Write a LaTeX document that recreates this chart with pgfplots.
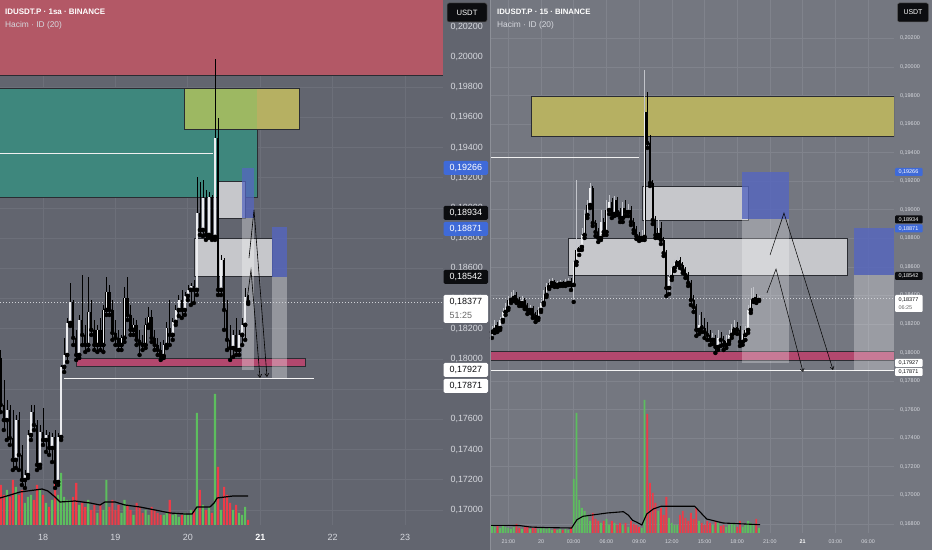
\documentclass[border=0pt]{standalone}
\usepackage{fontspec}
\setmainfont{Liberation Sans}
\usepackage{pgfplots}
\pgfplotsset{compat=1.18}
\usepackage{pgfplotstable}
\usetikzlibrary{arrows.meta}

\definecolor{bgL}{HTML}{62656F}
\definecolor{bgR}{HTML}{747780}
\definecolor{gridL}{HTML}{6C6F79}
\definecolor{gridR}{HTML}{80838C}
\definecolor{redZ}{HTML}{B35866}
\definecolor{tealZ}{HTML}{3E877D}
\definecolor{yelZ}{HTML}{B6B062}
\definecolor{limeZ}{HTML}{9DB862}
\definecolor{grayZ}{HTML}{C6C7CB}
\definecolor{blueZ}{HTML}{5566C0}
\definecolor{pinkZ}{HTML}{B2486E}
\definecolor{zbord}{HTML}{2A2C32}
\definecolor{volG}{HTML}{5DBE5E}
\definecolor{volR}{HTML}{EE3B48}
\definecolor{lbl}{HTML}{D6D8DE}
\definecolor{tvblue}{HTML}{3F6AD8}
\definecolor{tvblack}{HTML}{0C0D10}
\definecolor{upW}{HTML}{ECEDF0}
\definecolor{wickR}{HTML}{C2C4CA}
\definecolor{dotC}{HTML}{CFD1D6}
\definecolor{sepC}{HTML}{8D9098}

% ---------- left panel (1h), t = hours since day 17 00:00 ----------
\pgfplotstableread{
t o hi lo c v
12 0.17595 0.17728 0.17463 0.17661 35
15 0.17331 0.17628 0.17278 0.17595 38
18 0.17198 0.17264 0.17145 0.17231 22
19 0.17231 0.17529 0.17211 0.17496 28
20 0.17496 0.17695 0.17463 0.17648 30
23 0.17298 0.17562 0.17278 0.17516 35
25 0.17463 0.17529 0.17384 0.17496 22
27 0.17410 0.17509 0.17317 0.17483 25
29 0.17185 0.17509 0.17165 0.17483 30
30 0.17483 0.17960 0.17463 0.17947 52
31 0.17947 0.18139 0.17913 0.18026 28
32 0.18026 0.18271 0.17980 0.18238 25
33 0.18238 0.18503 0.18218 0.18377 25
36 0.18026 0.18291 0.18006 0.18258 20
39 0.18092 0.18543 0.18059 0.18311 25
42 0.18092 0.18225 0.18046 0.18192 12
44 0.18092 0.18357 0.18046 0.18324 15
45 0.18324 0.18543 0.18291 0.18443 45
50 0.18092 0.18159 0.18059 0.18139 12
51 0.18139 0.18476 0.18112 0.18403 25
54 0.18192 0.18271 0.18159 0.18225 10
58 0.18092 0.18271 0.18072 0.18225 15
59 0.18225 0.18344 0.18205 0.18278 10
64 0.18019 0.18126 0.18006 0.18092 10
65 0.18092 0.18245 0.18072 0.18205 12
67 0.18159 0.18271 0.18126 0.18245 10
68 0.18245 0.18357 0.18225 0.18324 12
69 0.18324 0.18423 0.18284 0.18390 8
71 0.18324 0.18443 0.18291 0.18417 12
72 0.18417 0.18490 0.18390 0.18457 10
73 0.18457 0.18503 0.18357 0.18483 15
75 0.18457 0.19205 0.18423 0.18966 112
77 0.18854 0.19185 0.18814 0.19066 20
79 0.18821 0.19106 0.18801 0.19072 18
81 0.18808 0.19986 0.18788 0.19463 131
83 0.18457 0.18688 0.18423 0.18655 15
87 0.18072 0.18192 0.18013 0.18159 15
89 0.18059 0.18192 0.18026 0.18159 12
90 0.18159 0.18271 0.18092 0.18225 10
91 0.18225 0.18470 0.18126 0.18410 18
}\LU
\pgfplotstableread{
t o hi lo c v
10 0.18006 0.18059 0.17648 0.17695 40
11 0.17695 0.17860 0.17529 0.17595 30
13 0.17661 0.17695 0.17430 0.17476 28
14 0.17476 0.17661 0.17264 0.17331 45
16 0.17595 0.17648 0.17264 0.17364 30
17 0.17364 0.17430 0.17165 0.17198 35
21 0.17648 0.17695 0.17529 0.17562 25
22 0.17562 0.17595 0.17264 0.17298 40
24 0.17516 0.17675 0.17430 0.17463 30
26 0.17496 0.17516 0.17364 0.17410 18
28 0.17483 0.17529 0.17145 0.17185 45
34 0.18377 0.18390 0.18092 0.18139 28
35 0.18139 0.18192 0.17993 0.18026 42
37 0.18258 0.18556 0.18092 0.18159 22
38 0.18159 0.18225 0.18046 0.18092 18
40 0.18311 0.18390 0.18159 0.18192 15
41 0.18192 0.18258 0.18059 0.18092 20
43 0.18192 0.18271 0.18059 0.18092 20
46 0.18443 0.18490 0.18291 0.18324 18
47 0.18324 0.18390 0.18126 0.18172 25
48 0.18172 0.18258 0.18092 0.18139 15
49 0.18139 0.18192 0.18059 0.18092 20
52 0.18403 0.18543 0.18258 0.18291 20
53 0.18291 0.18357 0.18159 0.18192 15
55 0.18225 0.18258 0.18092 0.18126 22
56 0.18126 0.18192 0.18026 0.18106 18
57 0.18106 0.18159 0.18059 0.18092 12
60 0.18278 0.18324 0.18112 0.18139 18
61 0.18139 0.18192 0.18059 0.18092 15
62 0.18092 0.18139 0.18026 0.18059 12
63 0.18059 0.18112 0.17993 0.18019 10
66 0.18205 0.18390 0.18092 0.18159 25
70 0.18390 0.18457 0.18271 0.18324 10
74 0.18483 0.18523 0.18370 0.18457 15
76 0.18966 0.19172 0.18821 0.18854 35
78 0.19066 0.19119 0.18788 0.18821 15
80 0.19072 0.19086 0.18788 0.18808 12
82 0.19463 0.19596 0.18423 0.18457 58
84 0.18655 0.18668 0.18192 0.18324 38
85 0.18324 0.18390 0.18059 0.18126 30
86 0.18126 0.18225 0.17993 0.18072 22
88 0.18159 0.18271 0.18026 0.18059 20
92 0.18410 0.18423 0.18364 0.18377 5
}\LD
\pgfplotstableread{
t m
9.74 27
13.1 30
16.4 33
21.3 35
23.7 36
25.6 34
28 28
29.6 23
34.6 24
39.6 22
42.9 20
44.5 23
47.9 23
51.2 20
56.1 18
62.8 14
66.1 12
71.1 11
73.4 11
75.0 18
79.3 18
80.7 22
81.7 27
84.3 28
87 29
92 29
}\LMA

% ---------- right panel (15m), t = hours relative to day 20 00:00 ----------
\pgfplotstableread{
t o hi lo c v
-4.50 0.18144 0.18186 0.18102 0.18158 8
-4.25 0.18158 0.18228 0.18137 0.18193 6
-3.75 0.18172 0.18249 0.18158 0.18228 5
-3.50 0.18228 0.18312 0.18214 0.18284 8
-3.25 0.18284 0.18347 0.18263 0.18312 6
-3.00 0.18312 0.18396 0.18298 0.18368 5
-2.75 0.18368 0.18424 0.18347 0.18382 4
-2.50 0.18382 0.18438 0.18361 0.18403 6
-1.75 0.18347 0.18396 0.18326 0.18368 4
-1.00 0.18298 0.18333 0.18277 0.18312 4
-0.25 0.18242 0.18319 0.18228 0.18298 4
0.00 0.18298 0.18368 0.18284 0.18347 5
0.25 0.18347 0.18438 0.18333 0.18403 6
0.50 0.18403 0.18487 0.18389 0.18459 4
0.75 0.18459 0.18515 0.18445 0.18487 5
1.00 0.18487 0.18522 0.18466 0.18494 3
1.50 0.18473 0.18501 0.18459 0.18480 3
1.75 0.18480 0.18508 0.18466 0.18487 4
2.25 0.18480 0.18515 0.18466 0.18487 4
2.50 0.18487 0.18522 0.18473 0.18501 3
3.00 0.18473 0.18662 0.18354 0.18634 54
3.25 0.18634 0.19208 0.18613 0.18718 120
3.50 0.18718 0.18788 0.18683 0.18739 33
3.75 0.18739 0.18872 0.18718 0.18823 25
4.00 0.18823 0.18998 0.18802 0.18963 22
4.25 0.18963 0.19068 0.18942 0.19033 18
4.50 0.19033 0.19187 0.19012 0.19152 12
5.50 0.18802 0.18998 0.18788 0.18914 10
6.00 0.18844 0.19068 0.18823 0.18998 14
6.25 0.18998 0.19103 0.18970 0.19054 8
6.75 0.18970 0.19096 0.18956 0.19068 10
7.50 0.18942 0.19054 0.18914 0.19012 8
8.00 0.18984 0.19040 0.18956 0.18998 6
9.25 0.18802 0.18858 0.18788 0.18809 5
9.50 0.18809 0.19979 0.18788 0.19685 133
10.75 0.18823 0.18942 0.18802 0.18872 22
11.75 0.18452 0.18564 0.18410 0.18529 15
12.00 0.18529 0.18620 0.18508 0.18592 10
12.25 0.18592 0.18655 0.18571 0.18627 8
12.50 0.18627 0.18676 0.18613 0.18648 8
14.50 0.18158 0.18263 0.18130 0.18193 12
15.75 0.18088 0.18137 0.18060 0.18102 8
16.25 0.18039 0.18158 0.18018 0.18102 10
17.00 0.18053 0.18123 0.18032 0.18081 6
17.25 0.18081 0.18158 0.18060 0.18123 8
17.50 0.18123 0.18200 0.18102 0.18158 10
17.75 0.18158 0.18228 0.18137 0.18179 9
18.50 0.18074 0.18158 0.18053 0.18123 6
18.75 0.18123 0.18186 0.18088 0.18158 8
19.00 0.18158 0.18333 0.18137 0.18298 12
19.25 0.18298 0.18452 0.18277 0.18368 10
19.50 0.18368 0.18459 0.18354 0.18389 8
20.00 0.18368 0.18396 0.18361 0.18377 5
}\RU
\pgfplotstableread{
t o hi lo c v
-4.00 0.18193 0.18214 0.18144 0.18172 7
-2.25 0.18403 0.18424 0.18347 0.18368 9
-2.00 0.18368 0.18389 0.18326 0.18347 5
-1.50 0.18368 0.18382 0.18305 0.18326 6
-1.25 0.18326 0.18347 0.18270 0.18298 7
-0.75 0.18312 0.18326 0.18242 0.18263 5
-0.50 0.18263 0.18284 0.18214 0.18242 6
1.25 0.18494 0.18508 0.18459 0.18473 4
2.00 0.18487 0.18501 0.18466 0.18480 3
2.75 0.18501 0.18522 0.18438 0.18473 6
4.75 0.19152 0.19166 0.18886 0.18907 20
5.00 0.18907 0.18928 0.18816 0.18844 14
5.25 0.18844 0.18872 0.18774 0.18802 12
5.75 0.18914 0.18942 0.18823 0.18844 12
6.50 0.19054 0.19082 0.18942 0.18970 12
7.00 0.19068 0.19089 0.18963 0.18984 8
7.25 0.18984 0.19012 0.18914 0.18942 10
7.75 0.19012 0.19068 0.18956 0.18984 10
8.25 0.18998 0.19026 0.18893 0.18914 12
8.50 0.18914 0.18942 0.18837 0.18858 9
8.75 0.18858 0.18886 0.18795 0.18816 8
9.00 0.18816 0.18844 0.18781 0.18802 6
9.75 0.19685 0.19825 0.19433 0.19467 119
10.00 0.19467 0.19524 0.19166 0.19187 50
10.25 0.19187 0.19208 0.18900 0.18928 40
10.50 0.18928 0.18956 0.18802 0.18823 30
11.00 0.18872 0.18914 0.18760 0.18788 25
11.25 0.18788 0.18809 0.18676 0.18697 18
11.50 0.18697 0.18718 0.18396 0.18452 36
12.75 0.18648 0.18669 0.18592 0.18613 18
13.00 0.18613 0.18634 0.18557 0.18578 22
13.25 0.18578 0.18599 0.18522 0.18543 15
13.50 0.18543 0.18564 0.18466 0.18487 12
13.75 0.18487 0.18508 0.18333 0.18368 20
14.00 0.18368 0.18403 0.18284 0.18319 14
14.25 0.18319 0.18340 0.18116 0.18158 25
14.75 0.18193 0.18284 0.18144 0.18172 10
15.00 0.18172 0.18242 0.18102 0.18144 8
15.25 0.18144 0.18214 0.18088 0.18123 12
15.50 0.18123 0.18158 0.18053 0.18088 10
16.00 0.18102 0.18123 0.17997 0.18039 12
16.50 0.18102 0.18144 0.18046 0.18088 7
16.75 0.18088 0.18116 0.18018 0.18053 8
18.00 0.18179 0.18214 0.18130 0.18158 6
18.25 0.18158 0.18186 0.18046 0.18074 12
19.75 0.18389 0.18410 0.18347 0.18368 14
}\RD
\pgfplotstableread{
t m
-4.67 7.7
-2.0 7.5
-1.0 6
0 5.5
2.8 5
3.3 13.3
3.85 16.7
6.06 20
7.55 21.3
8.0 18
8.4 12.7
8.8 10.7
9.25 8
9.7 19
10.3 24
11.0 26.7
14.1 26.7
15.2 14
16.7 10
20.1 8.3
}\RMA

\pgfplotsset{
  tvbase/.style={scale only axis, anchor=south west, axis line style={draw=none},
    major tick length=0pt, scaled y ticks=false, scaled x ticks=false},
  tvplain/.style={tvbase, xtick=\empty, ytick=\empty},
}

\newcommand{\candles}[5]{%
 \addplot[only marks, mark=none, error bars/.cd, y dir=plus, y explicit, error mark=none,
   error bar style={draw=#5, line width=0.6bp}] table[x=t, y=lo, y error expr=\thisrow{hi}-\thisrow{lo}] {#1};
 \addplot[only marks, mark=none, error bars/.cd, y dir=plus, y explicit, error mark=none,
   error bar style={draw=black, line width=0.6bp}] table[x=t, y=lo, y error expr=\thisrow{hi}-\thisrow{lo}] {#2};
 \addplot[only marks, mark=none, error bars/.cd, y dir=plus, y explicit, error mark=none,
   error bar style={draw=black, line width=#3}] table[x=t, y=o, y error expr=\thisrow{c}-\thisrow{o}] {#1};
 \addplot[only marks, mark=none, error bars/.cd, y dir=plus, y explicit, error mark=none,
   error bar style={draw=upW, line width=#4}] table[x=t, y=o, y error expr=\thisrow{c}-\thisrow{o}] {#1};
 \addplot[only marks, mark=none, error bars/.cd, y dir=plus, y explicit, error mark=none,
   error bar style={draw=black, line width=#3}] table[x=t, y=c, y error expr=\thisrow{o}-\thisrow{c}] {#2};
}

\newcommand{\hlL}[4]{\fill[#2,rounded corners=1.5bp] (443.5,{543-#1}) rectangle (488,{557-#1});
  \node[anchor=west,inner sep=0pt,text=#3,font=\fontsize{9}{10}\selectfont] at (449.5,{550-#1}) {#4};}
\newcommand{\hlR}[4]{\fill[#2,rounded corners=1bp] (895,{546-#1}) rectangle (922.5,{554-#1});
  \node[anchor=west,inner sep=0pt,text=#3,font=\fontsize{5.5}{6}\selectfont] at (898.3,{550-#1}) {#4};}

\begin{document}
\begin{tikzpicture}[x=1bp,y=1bp]
\fill[bgL] (0,0) rectangle (490,550);
\fill[bgR] (490,0) rectangle (932,550);

% ================= LEFT PANEL =================
\begin{axis}[tvbase, at={(0bp,25bp)}, width=443bp, height=525bp,
  xmin=9.74, xmax=156.57, ymin=0.169, ymax=0.20377,
  xtick={24,48,72,96,120,144}, xticklabels={18,19,20,{\bfseries\color{white}21},22,23},
  ytick={0.170,0.172,0.174,0.176,0.178,0.180,0.182,0.184,0.186,0.188,0.190,0.192,0.194,0.196,0.198,0.200,0.202},
  grid=major, grid style={draw=gridL, line width=0.7bp},
  yticklabel pos=right,
  yticklabel style={anchor=west, xshift=4bp, text=lbl, font=\fontsize{9}{10}\selectfont,
    /pgf/number format/.cd, fixed, fixed zerofill, precision=5, use comma, assume math mode=true},
  xticklabel style={anchor=base, yshift=-16bp, text=lbl, font=\fontsize{9}{10}\selectfont},
]
\end{axis}

\begin{axis}[tvplain, at={(0bp,25bp)}, width=443bp, height=525bp,
  xmin=9.74, xmax=156.57, ymin=0, ymax=525]
\addplot[ybar, bar width=2.1bp, fill=volG, draw=none] table[x=t, y=v] {\LU};
\addplot[ybar, bar width=2.1bp, fill=volR, draw=none] table[x=t, y=v] {\LD};
\addplot[black, line width=1.2bp] table[x=t, y=m] {\LMA};
\end{axis}

\begin{axis}[tvplain, at={(0bp,25bp)}, width=443bp, height=525bp,
  xmin=9.74, xmax=156.57, ymin=0.169, ymax=0.20377]
\fill[redZ] (axis cs:9.74,0.19874) rectangle (axis cs:156.57,0.20377);
\draw[zbord, line width=1bp] (axis cs:9.74,0.19874) -- (axis cs:156.57,0.19874);
\fill[tealZ] (axis cs:9.74,0.19072) rectangle (axis cs:94.92,0.19788);
\fill[yelZ] (axis cs:70.73,0.19516) rectangle (axis cs:108.84,0.19788);
\fill[limeZ] (axis cs:70.73,0.19516) rectangle (axis cs:94.92,0.19788);
\draw[zbord, line width=1bp] (axis cs:9.74,0.19788) -- (axis cs:108.84,0.19788) -- (axis cs:108.84,0.19516) -- (axis cs:70.73,0.19516) -- (axis cs:70.73,0.19788);
\draw[zbord, line width=1bp] (axis cs:94.92,0.19516) -- (axis cs:94.92,0.19072) -- (axis cs:9.74,0.19072);
\draw[white!88!gray, line width=0.8bp] (axis cs:9.74,0.19364) -- (axis cs:80.3,0.19364);
\filldraw[fill=grayZ, draw=zbord, line width=0.9bp] (axis cs:82.0,0.18927) rectangle (axis cs:90.95,0.19172);
\filldraw[fill=grayZ, draw=zbord, line width=0.9bp] (axis cs:74.04,0.18549) rectangle (axis cs:99.9,0.18801);
\filldraw[fill=pinkZ, draw=zbord, line width=0.9bp] (axis cs:34.93,0.17947) rectangle (axis cs:110.83,0.18006);
\draw[white!92!gray, line width=1bp] (axis cs:30.95,0.17871) -- (axis cs:113.8,0.17871);
\fill[white, opacity=0.32] (axis cs:89.95,0.17927) rectangle (axis cs:93.93,0.18934);
\fill[white, opacity=0.32] (axis cs:99.9,0.17871) rectangle (axis cs:104.9,0.18542);
\fill[blueZ, opacity=0.75] (axis cs:89.95,0.18934) rectangle (axis cs:93.93,0.19266);
\fill[blueZ, opacity=0.8] (axis cs:99.9,0.18542) rectangle (axis cs:104.9,0.18871);
\draw[dotC, line width=0.6bp, dash pattern=on 1bp off 2bp] (axis cs:9.74,0.18377) -- (axis cs:156.57,0.18377);
\candles{\LU}{\LD}{2.4bp}{1.5bp}{black}
\addplot[black, line width=0.6bp, -{Straight Barb[length=3bp,width=4bp]}] coordinates {(92.27,0.18668) (93.93,0.18986) (98.24,0.17880)};
\addplot[black, line width=0.6bp, -{Straight Barb[length=3bp,width=4bp]}] coordinates {(91.61,0.18390) (92.93,0.18589) (95.92,0.17874)};
\end{axis}

% ================= RIGHT PANEL =================
\begin{axis}[tvbase, at={(490bp,17bp)}, width=404bp, height=533bp,
  xmin=-4.679, xmax=32.385, ymin=0.16736, ymax=0.20469,
  xtick={-3,0,3,6,9,12,15,18,21,24,27,30},
  xticklabels={21:00,20,03:00,06:00,09:00,12:00,15:00,18:00,21:00,{\bfseries\color{white}21},03:00,06:00},
  ytick={0.168,0.170,0.172,0.174,0.176,0.178,0.180,0.182,0.184,0.186,0.188,0.190,0.192,0.194,0.196,0.198,0.200,0.202},
  grid=major, grid style={draw=gridR, line width=0.6bp},
  yticklabel pos=right,
  yticklabel style={anchor=west, xshift=2.5bp, text=lbl, font=\fontsize{5.5}{6}\selectfont,
    /pgf/number format/.cd, fixed, fixed zerofill, precision=5, use comma, assume math mode=true},
  xticklabel style={anchor=base, yshift=-11bp, text=lbl, font=\fontsize{5.4}{6}\selectfont},
]
\end{axis}

\begin{axis}[tvplain, at={(490bp,17bp)}, width=404bp, height=533bp,
  xmin=-4.679, xmax=32.385, ymin=0, ymax=533]
\addplot[ybar, bar width=1.8bp, fill=volG, draw=none] table[x=t, y=v] {\RU};
\addplot[ybar, bar width=1.8bp, fill=volR, draw=none] table[x=t, y=v] {\RD};
\addplot[black, line width=1.1bp] table[x=t, y=m] {\RMA};
\end{axis}

\begin{axis}[tvplain, at={(490bp,17bp)}, width=404bp, height=533bp,
  xmin=-4.679, xmax=32.385, ymin=0.16736, ymax=0.20469]
\filldraw[fill=yelZ, draw=zbord, line width=0.9bp] (axis cs:-0.92,0.19516) rectangle (axis cs:32.385,0.19790);
\draw[white!88!gray, line width=0.8bp] (axis cs:-4.679,0.19364) -- (axis cs:8.99,0.19364);
\filldraw[fill=grayZ, draw=zbord, line width=0.9bp] (axis cs:9.27,0.18928) rectangle (axis cs:19.0,0.19166);
\filldraw[fill=grayZ, draw=zbord, line width=0.9bp] (axis cs:2.48,0.18543) rectangle (axis cs:28.07,0.18802);
\filldraw[fill=pinkZ, draw=zbord, line width=0.9bp] (axis cs:-4.679,0.17945) rectangle (axis cs:32.385,0.18005);
\draw[white!92!gray, line width=1bp] (axis cs:-4.679,0.17871) -- (axis cs:32.385,0.17871);
\fill[white, opacity=0.28] (axis cs:18.44,0.17927) rectangle (axis cs:22.75,0.18934);
\fill[white, opacity=0.28] (axis cs:28.7,0.17871) rectangle (axis cs:32.385,0.18542);
\fill[blueZ, opacity=0.8] (axis cs:18.44,0.18934) rectangle (axis cs:22.75,0.19266);
\fill[blueZ, opacity=0.8] (axis cs:28.7,0.18542) rectangle (axis cs:32.385,0.18871);
\draw[dotC, line width=0.5bp, dash pattern=on 1bp off 2bp] (axis cs:-4.679,0.18377) -- (axis cs:32.385,0.18377);
\candles{\RU}{\RD}{2.0bp}{1.3bp}{wickR}
\addplot[black, line width=0.5bp, -{Straight Barb[length=3bp,width=4bp]}] coordinates {(21.01,0.18683) (22.29,0.18977) (26.79,0.17878)};
\addplot[black, line width=0.5bp, -{Straight Barb[length=3bp,width=4bp]}] coordinates {(20.73,0.18417) (21.56,0.18585) (24.04,0.17864)};
\end{axis}

\draw[sepC, line width=1bp] (490.5,0) -- (490.5,550);

% ----- overlays: titles, currency boxes, price labels -----
\node[anchor=west, inner sep=0pt, text=white, font=\fontsize{8}{9}\selectfont\bfseries] at (5,538) {IDUSDT.P · 1sa · BINANCE};
\node[anchor=west, inner sep=0pt, text=lbl, font=\fontsize{8.4}{9}\selectfont] at (5,525) {Hacim · ID (20)};
\node[anchor=west, inner sep=0pt, text=white, font=\fontsize{7.8}{9}\selectfont\bfseries] at (497,538) {IDUSDT.P · 15 · BINANCE};
\node[anchor=west, inner sep=0pt, text=lbl, font=\fontsize{8.4}{9}\selectfont] at (497,525) {Hacim · ID (20)};

\filldraw[fill=tvblack, draw=gray!70!black, line width=0.5bp, rounded corners=2bp] (447,528) rectangle (487,547);
\node[text=white, font=\fontsize{7.7}{9}\selectfont, inner sep=0pt] at (467,537.5) {USDT};
\filldraw[fill=tvblack, draw=gray!70!black, line width=0.5bp, rounded corners=2bp] (897.5,528) rectangle (928.5,547);
\node[text=white, font=\fontsize{7}{8}\selectfont, inner sep=0pt] at (913,537.5) {USDT};

\hlL{168}{tvblue}{white}{0,19266}
\hlL{213}{tvblack}{white}{0,18934}
\hlL{229}{tvblue}{white}{0,18871}
\hlL{277}{tvblack}{white}{0,18542}
\fill[white, rounded corners=1.5bp] (443.5,227) rectangle (488,255);
\node[anchor=west,inner sep=0pt,text=tvblack,font=\fontsize{9}{10}\selectfont] at (449.5,248) {0,18377};
\node[anchor=west,inner sep=0pt,text=gray!80!black,font=\fontsize{9}{10}\selectfont] at (449.5,235) {51:25};
\hlL{370}{white}{tvblack}{0,17927}
\hlL{386}{white}{tvblack}{0,17871}

\hlR{172}{tvblue}{white}{0,19266}
\hlR{219.5}{tvblack}{white}{0,18934}
\hlR{228.5}{tvblue}{white}{0,18871}
\hlR{276}{tvblack}{white}{0,18542}
\fill[white, rounded corners=1bp] (895,238) rectangle (922.5,255);
\node[anchor=west,inner sep=0pt,text=tvblack,font=\fontsize{5.5}{6}\selectfont] at (898.3,250.5) {0,18377};
\node[anchor=west,inner sep=0pt,text=gray!80!black,font=\fontsize{5.5}{6}\selectfont] at (898.3,242.5) {06:25};
\hlR{363}{white}{tvblack}{0,17927}
\hlR{372}{white}{tvblack}{0,17871}

\pgfresetboundingbox
\useasboundingbox (0,0) rectangle (932,550);
\end{tikzpicture}
\end{document}
